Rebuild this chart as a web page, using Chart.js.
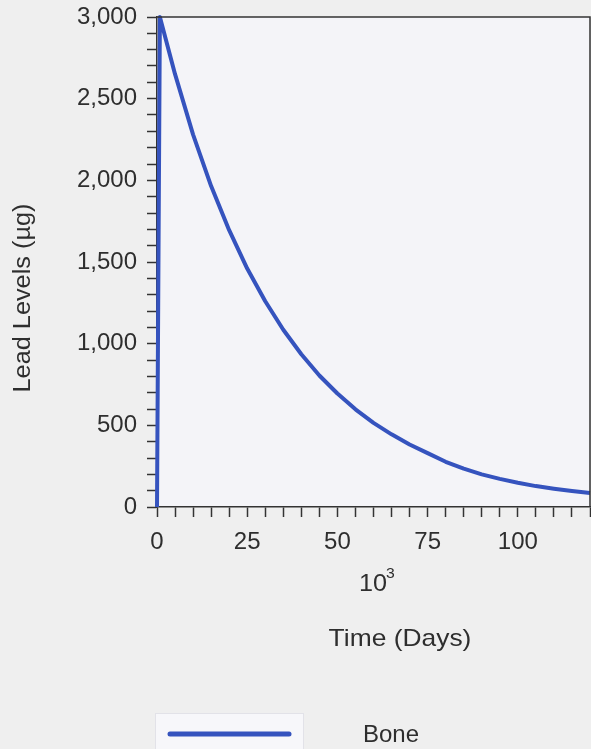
<!DOCTYPE html>
<html>
<head>
<meta charset="utf-8">
<script src="https://cdn.jsdelivr.net/npm/chart.js@4"></script>
<style>
  html, body { margin: 0; padding: 0; background: #efefef; }
  #wrap { width: 591px; height: 749px; }
</style>
</head>
<body>
<div id="wrap"><canvas id="myChart" width="591" height="749"></canvas></div>
<script>
// time in thousands of days, lead level in µg
const days = [0, 0.8, 5, 10, 15, 20, 25, 30, 35, 40, 45, 50, 55, 60, 65, 70, 75, 80, 85, 90, 95, 100, 105, 110, 115, 120];
const bone = [0, 3000, 2650, 2280, 1965, 1695, 1460, 1260, 1085, 935, 805, 695, 598, 515, 445, 383, 330, 277, 235, 200, 172, 148, 128, 112, 98, 86];
const seriesName = 'Bone';
const xLabels = [0, 25, 50, 75, 100];
const yLabels = [0, 500, 1000, 1500, 2000, 2500, 3000];

const lineColor = '#3553be';
const textColor = '#2e2e2e';
const axisColor = '#333333';
const fontFamily = '"Liberation Sans", Arial, sans-serif';

const points = days.map(function (d, i) { return { x: d, y: bone[i] }; });

// text drawn a little wider than normal, like the scanned original
function wideText(c, text, x, y, size, stretch) {
  c.save();
  c.translate(x, y);
  c.scale(stretch, 1);
  c.font = size + 'px ' + fontFamily;
  c.fillText(text, 0, 0);
  c.restore();
}

const extras = {
  id: 'extras',
  beforeDraw: function (chart) {
    const c = chart.ctx;
    const a = chart.chartArea;
    c.save();
    c.fillStyle = '#f4f4f8';
    c.fillRect(a.left, a.top, a.right - a.left, a.bottom - a.top);
    c.restore();
  },
  afterDraw: function (chart) {
    const c = chart.ctx;
    const a = chart.chartArea;
    c.save();
    // frame top/right
    c.strokeStyle = axisColor;
    c.lineWidth = 1.5;
    c.beginPath();
    c.moveTo(a.left, a.top);
    c.lineTo(a.right, a.top);
    c.lineTo(a.right, a.bottom);
    c.stroke();

    c.fillStyle = textColor;
    c.textBaseline = 'middle';
    // 10^3 multiplier
    c.textAlign = 'left';
    wideText(c, '10', 359, 584, 24, 1.05);
    wideText(c, '3', 386, 574, 15, 1.05);
    // x title
    c.textAlign = 'center';
    wideText(c, 'Time (Days)', 400, 639, 24, 1.1);
    // y title
    c.save();
    c.translate(24, 298);
    c.rotate(-Math.PI / 2);
    wideText(c, 'Lead Levels (\u00b5g)', 0, 0, 23, 1.1);
    c.restore();

    // legend
    const ds = chart.data.datasets[0];
    c.fillStyle = '#f7f7fa';
    c.fillRect(155, 713, 148, 40);
    c.strokeStyle = '#e2e2e8';
    c.lineWidth = 1;
    c.strokeRect(155.5, 713.5, 148, 40);
    c.strokeStyle = ds.borderColor;
    c.lineWidth = 5;
    c.lineCap = 'round';
    c.beginPath();
    c.moveTo(170, 734);
    c.lineTo(289, 734);
    c.stroke();
    c.fillStyle = textColor;
    wideText(c, ds.label, 391, 735, 24, 1.0);
    c.restore();
  }
};

const ctx = document.getElementById('myChart').getContext('2d');
const chart = new Chart(ctx, {
  type: 'line',
  data: {
    datasets: [{
      label: seriesName,
      data: points,
      borderColor: lineColor,
      borderWidth: 4,
      pointRadius: 0,
      fill: false,
      tension: 0,
      borderJoinStyle: 'round',
      clip: false,
    }],
  },
  options: {
    responsive: false,
    animation: false,
    layout: {
      padding: { left: 0, top: 17, right: 1, bottom: 0 },
    },
    plugins: {
      legend: { display: false },
      tooltip: { enabled: false },
    },
    scales: {
      x: {
        type: 'linear',
        min: 0,
        max: 120,
        afterFit: function (s) {
          s.height = 242;
          s.paddingLeft = 0;
          s.paddingRight = 0;
        },
        border: { display: true, color: axisColor, width: 1.5 },
        grid: { drawOnChartArea: false, tickLength: 10, tickColor: axisColor, tickWidth: 1.5 },
        ticks: {
          stepSize: 5,
          autoSkip: false,
          maxRotation: 0,
          padding: 11,
          color: textColor,
          font: { family: fontFamily, size: 24 },
          callback: function (v) { return xLabels.includes(v) ? String(v) : ''; },
        },
      },
      y: {
        min: 0,
        max: 3000,
        afterFit: function (s) {
          s.width = 157;
          s.paddingTop = 0;
          s.paddingBottom = 0;
        },
        border: { display: true, color: axisColor, width: 1.5 },
        grid: { drawOnChartArea: false, tickLength: 10, tickColor: axisColor, tickWidth: 1.5 },
        ticks: {
          stepSize: 100,
          autoSkip: false,
          padding: 10,
          color: textColor,
          font: { family: fontFamily, size: 24 },
          callback: function (v) { return yLabels.includes(v) ? v.toLocaleString('en-US') : ''; },
        },
      },
    },
  },
  plugins: [extras],
});
</script>
</body>
</html>
